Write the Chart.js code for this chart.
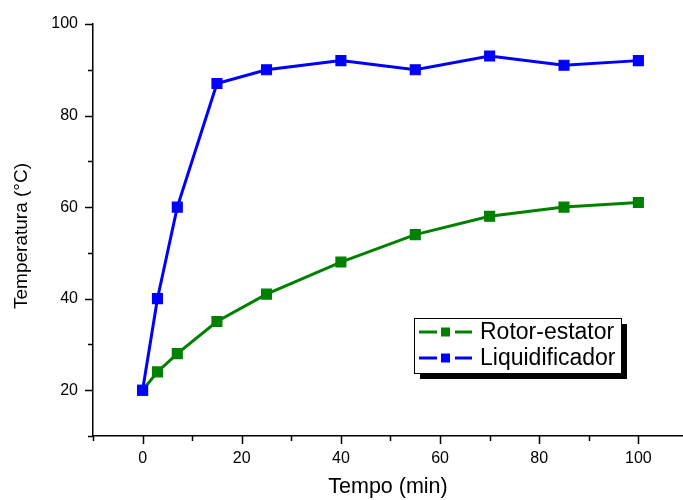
<!DOCTYPE html>
<html>
<head>
<meta charset="utf-8">
<script src="https://cdn.jsdelivr.net/npm/chart.js@4.4.1/dist/chart.umd.min.js"></script>
<style>
  html, body { margin: 0; padding: 0; background: #fff; }
  #wrap { width: 683px; height: 500px; position: relative; }
</style>
</head>
<body>
<div id="wrap"><canvas id="tempChart"></canvas></div>
<script>
// Tempo (min) on x, temperature (°C) on y
const tempo = [0, 3, 7, 15, 25, 40, 55, 70, 85, 100];
const rotorEstator = [20, 24, 28, 35, 41, 48, 54, 58, 60, 61];
const liquidificador = [20, 40, 60, 87, 90, 92, 90, 93, 91, 92];
const seriesNames = ["Rotor-estator", "Liquidificador"];
const xMajorTicks = [0, 20, 40, 60, 80, 100];
const yMajorTicks = [20, 40, 60, 80, 100];
const yTitle = "Temperatura (°C)";

const FONT = "'Liberation Sans', Arial, sans-serif";

function toPoints(xs, ys) {
    return xs.map((x, i) => ({ x: x, y: ys[i] }));
}

// tick marks: long on labelled values, short in between
const axisTicks = {
    id: "axisTicks",
    afterDraw(chart) {
        const ctx = chart.ctx;
        const xs = chart.scales.x, ys = chart.scales.y;
        const area = chart.chartArea;
        ctx.save();
        ctx.strokeStyle = "#000";
        ctx.lineWidth = 1.5;
        for (let v = -10; v <= 100; v += 10) {
            const px = Math.round(xs.getPixelForValue(v)) + 0.5;
            const len = xMajorTicks.includes(v) ? 8 : 5;
            ctx.beginPath();
            ctx.moveTo(px, area.bottom);
            ctx.lineTo(px, area.bottom + len);
            ctx.stroke();
        }
        for (let v = 10; v <= 100; v += 10) {
            const py = Math.round(ys.getPixelForValue(v)) + 0.5;
            const len = yMajorTicks.includes(v) ? 8 : 5;
            ctx.beginPath();
            ctx.moveTo(area.left, py);
            ctx.lineTo(area.left - len, py);
            ctx.stroke();
        }
        // y axis title, rotated
        ctx.translate(22, 236);
        ctx.rotate(-Math.PI / 2);
        ctx.fillStyle = "#000";
        ctx.font = "19px " + FONT;
        ctx.textAlign = "center";
        ctx.textBaseline = "middle";
        ctx.fillText(yTitle, 0, 0);
        ctx.restore();
    }
};

// boxed legend with a drop shadow, like the original plot
const boxLegend = {
    id: "boxLegend",
    afterDraw(chart) {
        const ctx = chart.ctx;
        const bx = 414, by = 318, bw = 207, bh = 55;
        ctx.save();
        ctx.fillStyle = "#000";
        ctx.fillRect(bx + 6, by + 6, bw, bh);
        ctx.fillStyle = "#fff";
        ctx.fillRect(bx, by, bw, bh);
        ctx.strokeStyle = "#000";
        ctx.lineWidth = 1;
        ctx.strokeRect(bx + 0.5, by + 0.5, bw, bh);

        const entries = [chart.data.datasets[1], chart.data.datasets[0]];
        entries.forEach((ds, i) => {
            const cy = by + 14 + i * 26;
            ctx.strokeStyle = ds.borderColor;
            ctx.lineWidth = 3;
            ctx.beginPath();
            ctx.moveTo(419, cy); ctx.lineTo(437, cy);
            ctx.moveTo(455, cy); ctx.lineTo(472, cy);
            ctx.stroke();
            ctx.fillStyle = ds.borderColor;
            ctx.fillRect(441, cy - 4.5, 9, 9);
            ctx.fillStyle = "#000";
            ctx.font = "23px " + FONT;
            ctx.textBaseline = "middle";
            ctx.textAlign = "left";
            ctx.fillText(ds.label, 480, cy + 1);
        });
        ctx.restore();
    }
};

const ctx = document.getElementById("tempChart").getContext("2d");
new Chart(ctx, {
    type: "line",
    data: {
        datasets: [
            {
                label: seriesNames[1],
                data: toPoints(tempo, liquidificador),
                borderColor: "#0000ff",
                backgroundColor: "#0000ff",
                pointBackgroundColor: "#0000ff",
                order: 0
            },
            {
                label: seriesNames[0],
                data: toPoints(tempo, rotorEstator),
                borderColor: "#008000",
                backgroundColor: "#008000",
                pointBackgroundColor: "#008000",
                order: 1
            }
        ]
    },
    options: {
        responsive: true,
        maintainAspectRatio: false,
        animation: false,
        layout: { autoPadding: false, padding: { top: 24, right: 0, left: 0, bottom: 0 } },
        elements: {
            line: { borderWidth: 3, tension: 0, fill: false },
            point: { pointStyle: "rect", radius: 7, borderWidth: 1.2, borderColor: "#ffffff", hoverRadius: 7 }
        },
        plugins: {
            legend: { display: false },
            tooltip: { enabled: false }
        },
        scales: {
            x: {
                type: "linear",
                min: -10,
                max: 109,
                afterBuildTicks: scale => {
                    scale.ticks = xMajorTicks.map(v => ({ value: v }));
                },
                afterFit: scale => {
                    scale.height = 64;
                    scale.paddingLeft = 0;
                    scale.paddingRight = 0;
                },
                grid: { display: false, drawTicks: false },
                border: { display: true, color: "#000", width: 1.5 },
                ticks: {
                    padding: 13,
                    color: "#000",
                    font: { family: FONT, size: 16 },
                    maxRotation: 0
                },
                title: {
                    display: true,
                    text: "Tempo (min)",
                    color: "#000",
                    font: { family: FONT, size: 21.5 },
                    padding: { top: 4, bottom: 0 }
                }
            },
            y: {
                min: 10,
                max: 100,
                afterBuildTicks: scale => {
                    scale.ticks = yMajorTicks.map(v => ({ value: v }));
                },
                afterFit: scale => {
                    scale.width = 93;
                    scale.paddingTop = 0;
                    scale.paddingBottom = 0;
                },
                grid: { display: false, drawTicks: false },
                border: { display: true, color: "#000", width: 1.5 },
                ticks: {
                    padding: 15,
                    color: "#000",
                    font: { family: FONT, size: 16 }
                }
            }
        }
    },
    plugins: [axisTicks, boxLegend]
});
</script>
</body>
</html>
